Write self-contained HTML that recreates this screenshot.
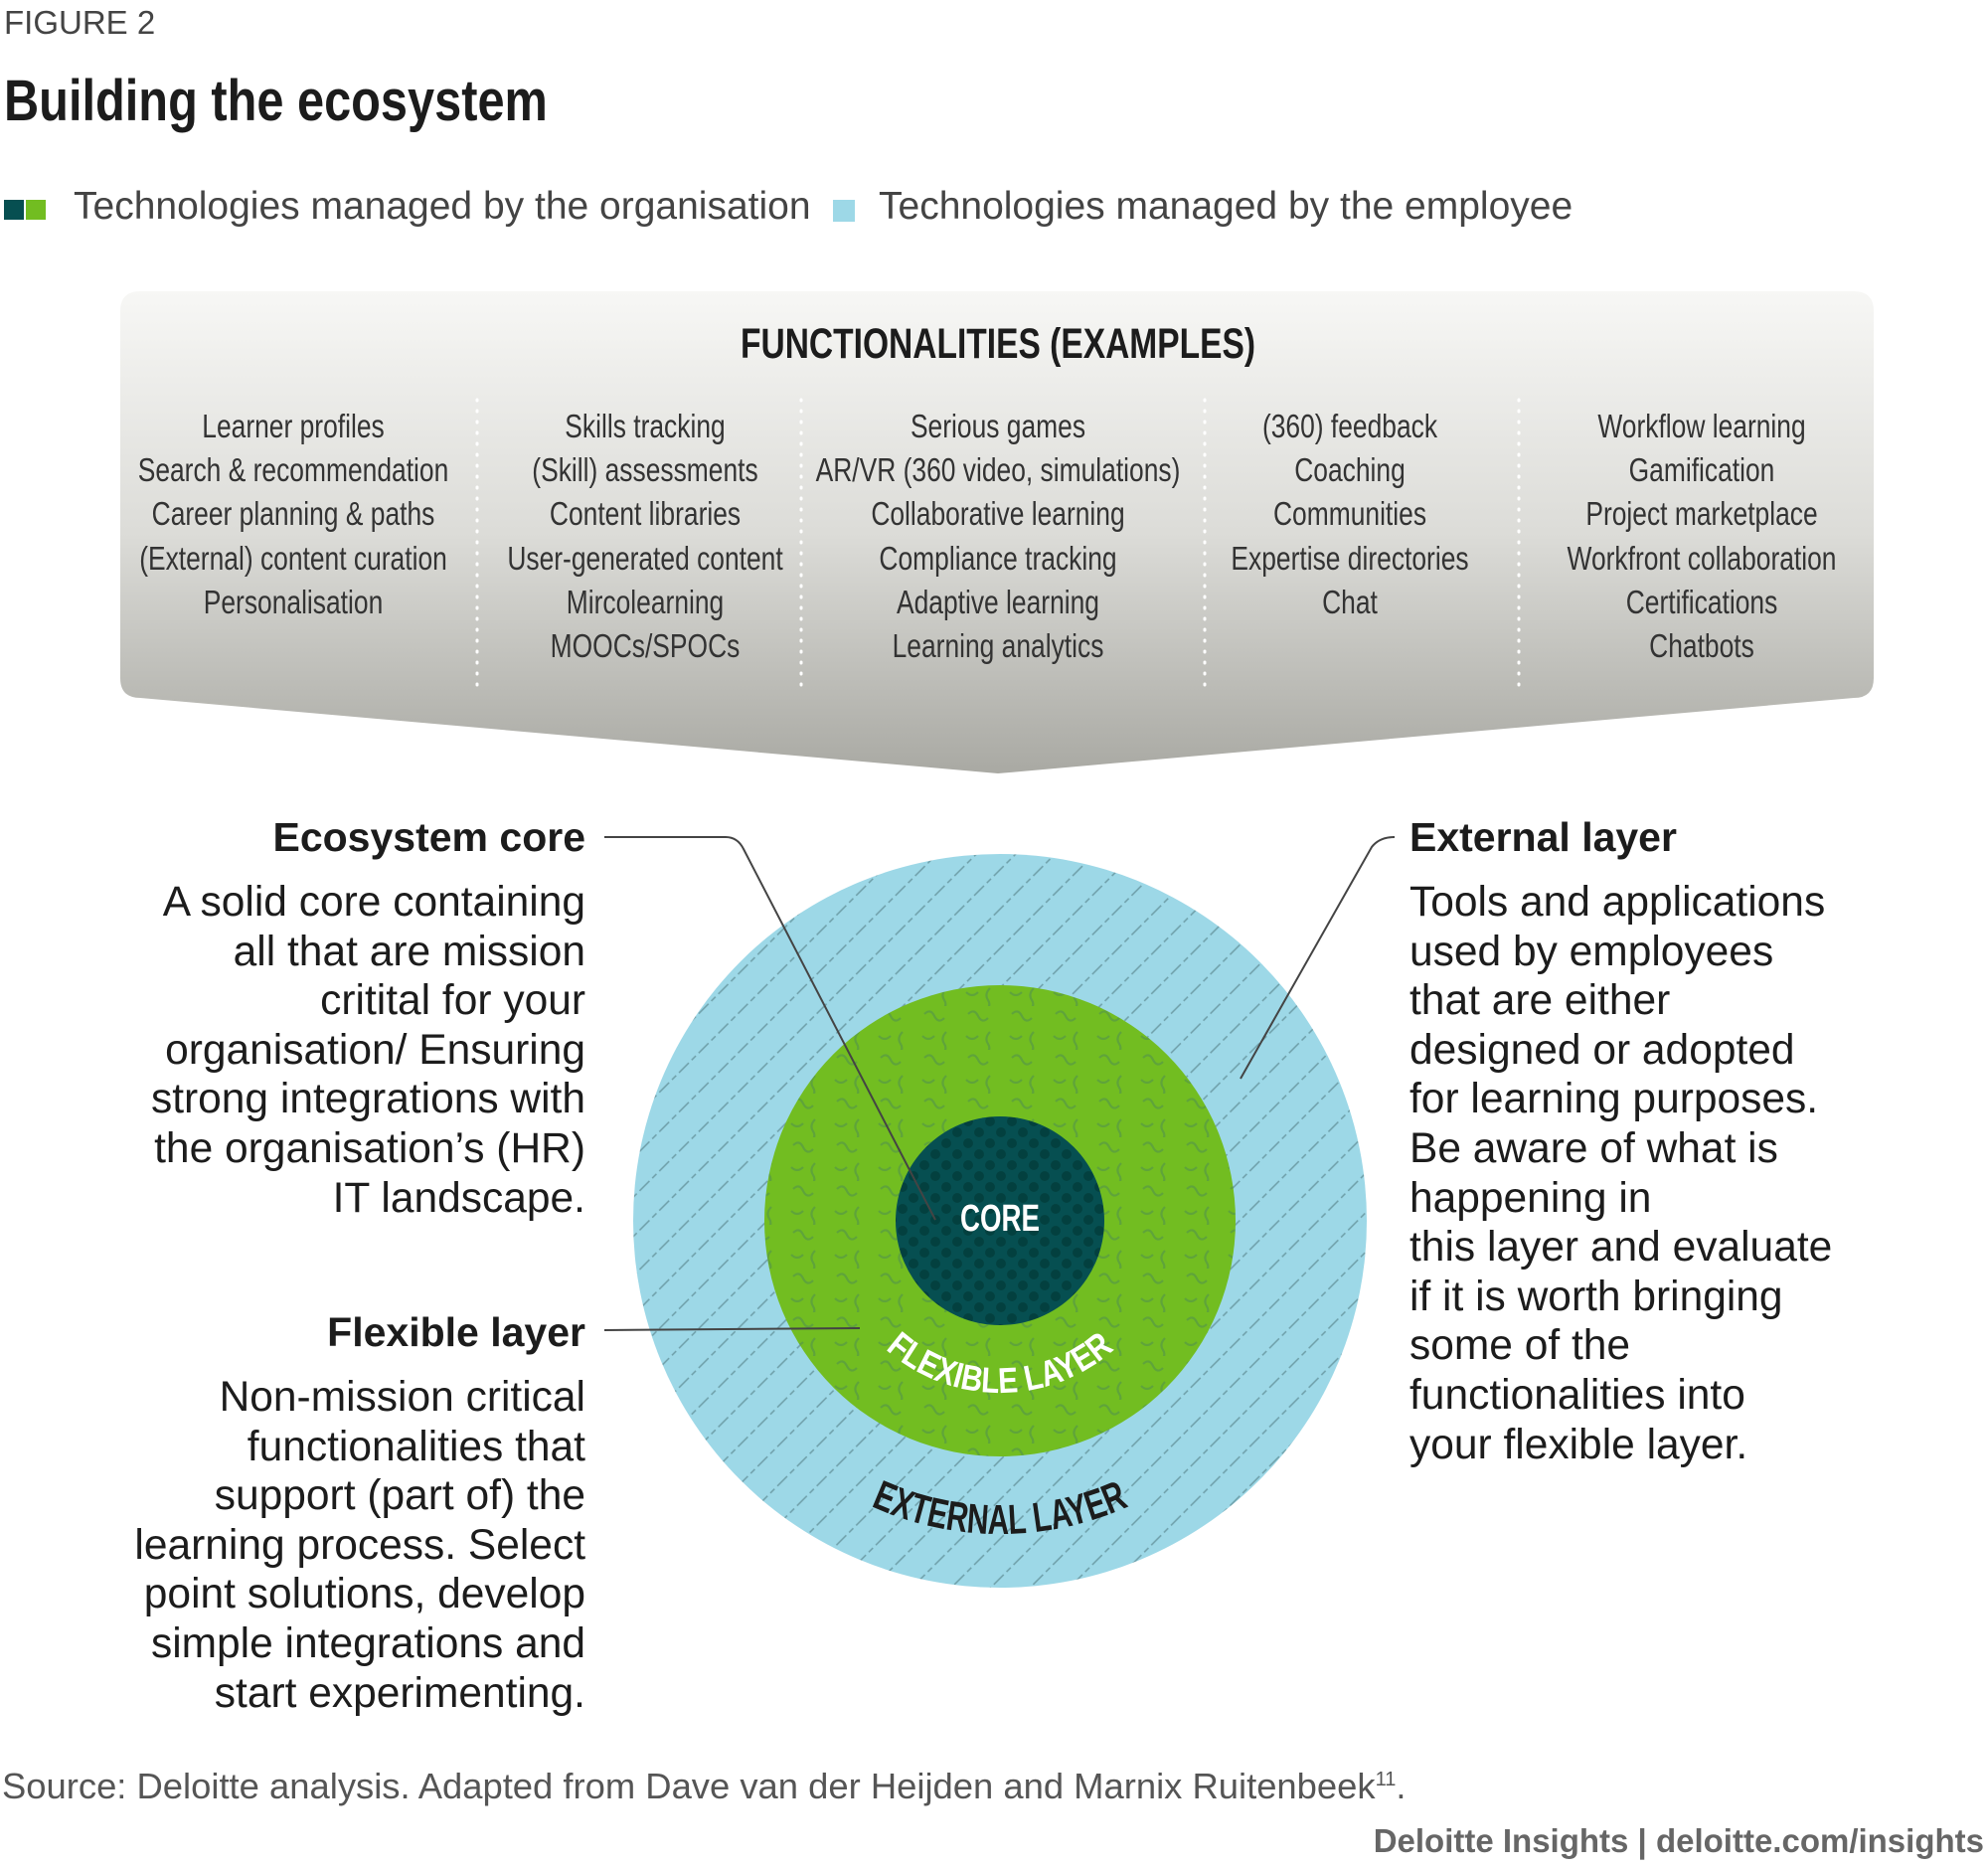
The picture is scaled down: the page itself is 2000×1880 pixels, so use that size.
<!DOCTYPE html>
<html><head><meta charset="utf-8"><style>
body{margin:0;width:2000px;height:1880px;background:#fff;overflow:hidden;position:relative;font-family:"Liberation Sans",sans-serif;color:#222}
.a{position:absolute;white-space:nowrap}
.c{transform:scaleX(0.8);transform-origin:center top}
</style></head><body>
<svg width="2000" height="1880" style="position:absolute;left:0;top:0">
<defs>
<linearGradient id="g" x1="0" y1="0" x2="0" y2="1">
<stop offset="0" stop-color="#f7f7f5"/><stop offset="0.5" stop-color="#dcdcd8"/><stop offset="1" stop-color="#a9a9a3"/></linearGradient>
<pattern id="ph" width="28" height="28" patternUnits="userSpaceOnUse" patternTransform="rotate(-45)">
<rect width="28" height="28" fill="#9dd8e7"/><line x1="0" y1="14" x2="28" y2="14" stroke="#6e9ea8" stroke-width="1.4" stroke-dasharray="14 4 6 4"/></pattern>
<pattern id="pw" width="44" height="44" patternUnits="userSpaceOnUse">
<rect width="44" height="44" fill="#72bd21"/><path d="M6 8 q6 -6 10 2 t10 2 M28 26 q-6 6 -2 12 t-4 12 M4 30 q6 6 12 0" stroke="#5fa43a" stroke-width="2.2" fill="none"/></pattern>
<pattern id="pd" width="22" height="22" patternUnits="userSpaceOnUse">
<rect width="22" height="22" fill="#064f51"/><circle cx="6" cy="6" r="5" fill="#03403f"/><circle cx="17" cy="17" r="5" fill="#03403f"/></pattern>
</defs>
<path d="M141 293 H1865 Q1885 293 1885 313 V682 Q1885 702 1865 702 L1004 778 L141 702 Q121 702 121 682 V313 Q121 293 141 293 Z" fill="url(#g)"/>
<g stroke="#fff" stroke-width="3" stroke-dasharray="1 10" stroke-linecap="round">
<line x1="480" y1="402" x2="480" y2="690"/><line x1="806" y1="402" x2="806" y2="690"/><line x1="1212" y1="402" x2="1212" y2="690"/><line x1="1528" y1="402" x2="1528" y2="690"/></g>
<circle cx="1006" cy="1228" r="369" fill="url(#ph)"/>
<circle cx="1006" cy="1228" r="237" fill="url(#pw)"/>
<circle cx="1006" cy="1228" r="105" fill="url(#pd)"/>
<text x="1006" y="1238" text-anchor="middle" font-family="Liberation Sans,sans-serif" font-weight="bold" font-size="38" fill="#fff" textLength="80" lengthAdjust="spacingAndGlyphs">CORE</text>
<path id="p1" d="M833 1228 A173 173 0 0 0 1179 1228" fill="none"/>
<path id="p2" d="M691 1228 A315 315 0 0 0 1321 1228" fill="none"/>
<text font-family="Liberation Sans,sans-serif" font-weight="bold" font-size="36" fill="#fff"><textPath href="#p1" startOffset="50%" text-anchor="middle" textLength="252" lengthAdjust="spacingAndGlyphs">FLEXIBLE LAYER</textPath></text>
<text font-family="Liberation Sans,sans-serif" font-weight="bold" font-size="42" fill="#1c1c1c"><textPath href="#p2" startOffset="50%" text-anchor="middle" textLength="268" lengthAdjust="spacingAndGlyphs">EXTERNAL LAYER</textPath></text>
<g stroke="#444" stroke-width="2" fill="none">
<path d="M608 842 H730 Q742 842 748 854 L941 1227"/>
<path d="M608 1338 L865 1336"/>
<path d="M1403 842 Q1388 842 1380 852 L1248 1085"/>
</g>
<rect x="4" y="201" width="20" height="20" fill="#064f51"/><rect x="26" y="201" width="20" height="20" fill="#72bd21"/>
<rect x="838" y="201" width="22" height="22" fill="#9dd8e7"/>
</svg>
<div class="a" style="left:4px;top:4px;font-size:33px;color:#444">FIGURE 2</div>
<div class="a" style="left:4px;top:68px;font-size:58px;font-weight:bold;color:#1c1c1c;transform:scaleX(0.84);transform-origin:left top">Building the ecosystem</div>
<div class="a" style="left:74px;top:186px;font-size:39px;color:#444">Technologies managed by the organisation</div>
<div class="a" style="left:884px;top:186px;font-size:39px;color:#444">Technologies managed by the employee</div>
<div class="a" style="left:0;width:2008px;text-align:center;top:322px;font-size:43px;font-weight:bold;color:#1c1c1c;transform:scaleX(0.78);transform-origin:1004px 0">FUNCTIONALITIES (EXAMPLES)</div>
<div style="position:absolute;top:407px;left:0;width:2000px;font-size:33px;line-height:44.2px;color:#333">
<div class="a c" style="left:95px;width:400px;text-align:center">Learner profiles<br>Search &amp; recommendation<br>Career planning &amp; paths<br>(External) content curation<br>Personalisation</div>
<div class="a c" style="left:449px;width:400px;text-align:center">Skills tracking<br>(Skill) assessments<br>Content libraries<br>User-generated content<br>Mircolearning<br>MOOCs/SPOCs</div>
<div class="a c" style="left:754px;width:500px;text-align:center">Serious games<br>AR/VR (360 video, simulations)<br>Collaborative learning<br>Compliance tracking<br>Adaptive learning<br>Learning analytics</div>
<div class="a c" style="left:1158px;width:400px;text-align:center">(360) feedback<br>Coaching<br>Communities<br>Expertise directories<br>Chat</div>
<div class="a c" style="left:1512px;width:400px;text-align:center">Workflow learning<br>Gamification<br>Project marketplace<br>Workfront collaboration<br>Certifications<br>Chatbots</div>
</div>
<div class="a" style="right:1411px;top:819px;font-size:41px;font-weight:bold;text-align:right;color:#1c1c1c">Ecosystem core</div>
<div class="a" style="right:1411px;top:883px;font-size:42.5px;line-height:49.6px;text-align:right;color:#1c1c1c">A solid core containing<br>all that are mission<br>critital for your<br>organisation/ Ensuring<br>strong integrations with<br>the organisation’s (HR)<br>IT landscape.</div>
<div class="a" style="right:1411px;top:1317px;font-size:41px;font-weight:bold;text-align:right;color:#1c1c1c">Flexible layer</div>
<div class="a" style="right:1411px;top:1381px;font-size:42.5px;line-height:49.6px;text-align:right;color:#1c1c1c">Non-mission critical<br>functionalities that<br>support (part of) the<br>learning process. Select<br>point solutions, develop<br>simple integrations and<br>start experimenting.</div>
<div class="a" style="left:1418px;top:819px;font-size:41px;font-weight:bold;color:#1c1c1c">External layer</div>
<div class="a" style="left:1418px;top:883px;font-size:42.5px;line-height:49.6px;color:#1c1c1c">Tools and applications<br>used by employees<br>that are either<br>designed or adopted<br>for learning purposes.<br>Be aware of what is<br>happening in<br>this layer and evaluate<br>if it is worth bringing<br>some of the<br>functionalities into<br>your flexible layer.</div>
<div class="a" style="left:2px;top:1776px;font-size:36.4px;color:#555">Source: Deloitte analysis. Adapted from Dave van der Heijden and Marnix Ruitenbeek<sup style="font-size:20px">11</sup>.</div>
<div class="a" style="right:4px;top:1833px;font-size:33px;font-weight:bold;color:#666">Deloitte Insights | deloitte.com/insights</div>
</body></html>
